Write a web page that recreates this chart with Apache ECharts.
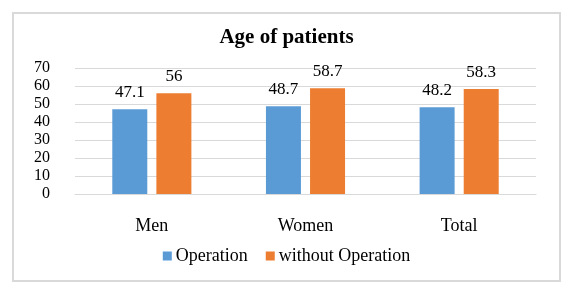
<!DOCTYPE html>
<html>
<head>
<meta charset="utf-8">
<script src="https://cdn.jsdelivr.net/npm/echarts@6/dist/echarts.min.js"></script>
<style>
html, body { margin: 0; padding: 0; background: #fff; }
#chart { width: 573px; height: 292px; }
</style>
</head>
<body>
<div id="chart"></div>
<script>
var groups = ['Men', 'Women', 'Total'];
var operation = [47.1, 48.7, 48.2];
var withoutOperation = [56, 58.7, 58.3];
var seriesNames = ['Operation', 'without Operation'];

var font = '"Liberation Serif", "Times New Roman", serif';
var chart = echarts.init(document.getElementById('chart'));

var barLabel = {
    show: true,
    position: 'top',
    distance: 8,
    color: '#000',
    fontFamily: font,
    fontSize: 17
};

option = {
    animation: false,
    graphic: [{
        type: 'rect',
        shape: { x: 13, y: 13, width: 547, height: 268 },
        style: { fill: 'none', stroke: '#d9d9d9', lineWidth: 2 }
    }],
    title: {
        text: 'Age of patients',
        left: 'center',
        top: 22,
        textStyle: { fontFamily: font, fontSize: 21, fontWeight: 'bold', color: '#000' }
    },
    legend: {
        data: seriesNames,
        top: 242,
        left: 'center',
        itemWidth: 9,
        itemHeight: 9,
        itemGap: 18,
        icon: 'rect',
        textStyle: { fontFamily: font, fontSize: 18, color: '#000', padding: [0, 0, 0, -1] }
    },
    grid: { left: 75, right: 37, top: 68, bottom: 98 },
    xAxis: {
        type: 'category',
        data: groups,
        axisTick: { show: false },
        axisLine: { lineStyle: { color: '#d9d9d9', width: 1 } },
        axisLabel: { color: '#000', fontFamily: font, fontSize: 18, margin: 23 }
    },
    yAxis: {
        type: 'value',
        min: 0,
        max: 70,
        interval: 10,
        axisLine: { show: false },
        axisTick: { show: false },
        splitLine: { lineStyle: { color: '#d9d9d9', width: 1 } },
        axisLabel: { color: '#000', fontFamily: font, fontSize: 16, margin: 25 }
    },
    series: [{
        name: seriesNames[0],
        type: 'bar',
        data: operation,
        barWidth: 35,
        barGap: '26%',
        itemStyle: { color: '#5b9bd5' },
        label: barLabel
    }, {
        name: seriesNames[1],
        type: 'bar',
        data: withoutOperation,
        barWidth: 35,
        barGap: '26%',
        itemStyle: { color: '#ed7d31' },
        label: barLabel
    }]
};
chart.setOption(option);
</script>
</body>
</html>
